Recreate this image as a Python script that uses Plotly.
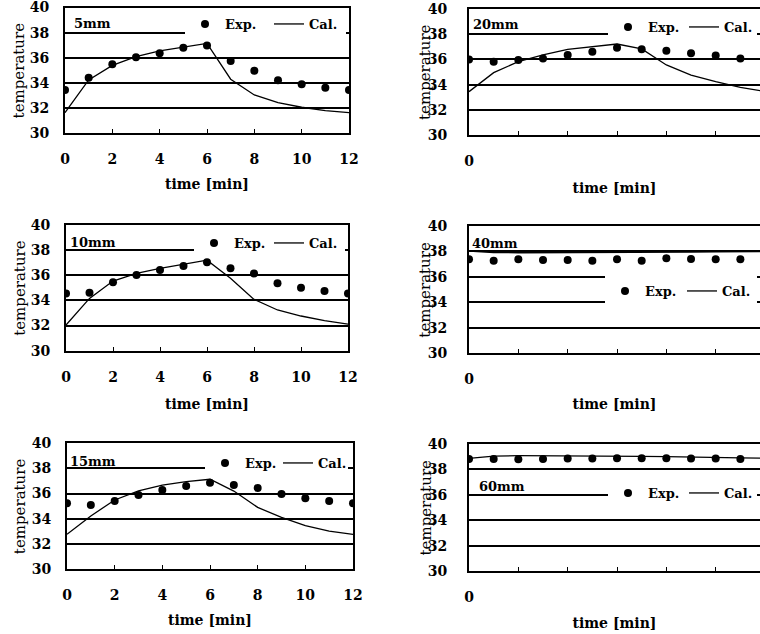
import plotly.graph_objects as go

# ---------------- data ----------------
time_min = [0, 1, 2, 3, 4, 5, 6, 7, 8, 9, 10, 11, 12]

exp_5mm = [33.44, 34.42, 35.48, 36.04, 36.36, 36.81, 36.97, 35.75, 34.98, 34.21, 33.89, 33.63, 33.44]
cal_5mm = [31.64, 34.24, 35.40, 36.10, 36.55, 36.83, 37.15, 34.30, 33.05, 32.44, 32.07, 31.80, 31.64]

exp_10mm = [34.56, 34.62, 35.44, 36.02, 36.42, 36.74, 37.03, 36.55, 36.15, 35.36, 35.01, 34.75, 34.56]
cal_10mm = [32.04, 34.16, 35.54, 36.15, 36.55, 36.87, 37.20, 35.76, 34.08, 33.24, 32.76, 32.39, 32.12]

exp_15mm = [35.23, 35.09, 35.41, 35.89, 36.29, 36.60, 36.87, 36.68, 36.45, 35.97, 35.62, 35.41, 35.23]
cal_15mm = [32.76, 34.22, 35.49, 36.21, 36.68, 36.95, 37.14, 36.20, 34.90, 34.10, 33.45, 33.02, 32.76]

exp_20mm = [36.00, 35.82, 35.95, 36.08, 36.35, 36.61, 36.93, 36.80, 36.69, 36.48, 36.30, 36.08, 36.00]
cal_20mm = [33.44, 34.95, 35.82, 36.35, 36.80, 37.02, 37.22, 36.83, 35.56, 34.76, 34.23, 33.78, 33.45]

exp_40mm = [37.38, 37.28, 37.38, 37.33, 37.33, 37.28, 37.38, 37.28, 37.46, 37.41, 37.38, 37.38, 37.38]
cal_40mm = [38.02, 37.92, 37.90, 37.90, 37.90, 37.90, 37.90, 37.92, 37.92, 37.95, 37.97, 37.98, 37.98]

exp_60mm = [38.82, 38.82, 38.79, 38.82, 38.85, 38.85, 38.87, 38.87, 38.87, 38.85, 38.85, 38.82, 38.82]
cal_60mm = [38.87, 39.05, 39.08, 39.08, 39.08, 39.08, 39.07, 39.03, 39.00, 38.95, 38.92, 38.90, 38.88]

panel_labels = ["5mm", "20mm", "10mm", "40mm", "15mm", "60mm"]
exp_series = [exp_5mm, exp_20mm, exp_10mm, exp_40mm, exp_15mm, exp_60mm]
cal_series = [cal_5mm, cal_20mm, cal_10mm, cal_40mm, cal_15mm, cal_60mm]

x_tick_vals = [0, 2, 4, 6, 8, 10, 12]
x_tick_text_full = ["0", "2", "4", "6", "8", "10", "12"]
x_tick_text_cut = ["0", "", "", "", "", "", ""]
y_tick_vals = [30, 32, 34, 36, 38, 40]
x_title = "time [min]"
y_title = "temperature"
exp_name = "Exp."
cal_name = "Cal."

# ---------------- layout geometry (pixels) ----------------
W, H = 760, 634
PX_PER_MIN_RIGHT = 24.67
# (x of t=0, x of t=12 or right edge, y of 40, y of 30, left-column?)
geom = [
    (65, 349, 7.5, 133.3, True),
    (469, 760, 9.0, 135.0, False),
    (66, 348, 225.0, 350.7, True),
    (469, 760, 226.0, 353.3, False),
    (67, 353, 443.3, 569.0, True),
    (469, 760, 444.0, 571.0, False),
]
xtitle_standoff = [13, 15, 16, 13, 13, 14]
# legend: left edge, vertical centre, Exp entry width, Cal entry width
legend_pos = [(185, 24), (608, 27), (194, 243), (605, 291), (205, 463), (608, 493)]
legend_exp_w = [39, 31, 30, 32, 28, 31]
legend_cal_w = [32, 28, 31, 30, 25, 28]
# panel label: left x, centre y
label_pos = [(72, 24), (471, 25), (68, 242), (470, 243), (68, 461), (477, 486)]
# y title centre x
ytitle_x = [19, 425, 20, 425, 20, 425]

SERIF = "DejaVu Serif"
fig = go.Figure()
layout = dict(
    width=W, height=H,
    margin=dict(l=0, r=0, t=0, b=0),
    paper_bgcolor="white", plot_bgcolor="white",
    font=dict(family=SERIF, color="black", size=13),
    annotations=[],
)

for i in range(6):
    x0, x1, y40, y30, full = geom[i]
    sfx = "" if i == 0 else str(i + 1)
    xa, ya = "x" + sfx, "y" + sfx
    leg = "legend" + sfx
    if full:
        xrange = [0, 12]
        ticktext = x_tick_text_full
        ystand = 11
    else:
        xrange = [0, (x1 - x0) / PX_PER_MIN_RIGHT]
        ticktext = x_tick_text_cut
        ystand = 17
    fig.add_trace(go.Scatter(
        x=time_min, y=exp_series[i], mode="markers", name=exp_name,
        marker=dict(symbol="circle", size=8, color="black"),
        xaxis=xa, yaxis=ya, legend=leg, showlegend=True,
        legendwidth=legend_exp_w[i],
    ))
    fig.add_trace(go.Scatter(
        x=time_min, y=cal_series[i], mode="lines", name=cal_name,
        line=dict(color="black", width=1.3),
        xaxis=xa, yaxis=ya, legend=leg, showlegend=True,
        legendwidth=legend_cal_w[i],
    ))
    layout["xaxis" + sfx] = dict(
        domain=[x0 / W, min(x1 / W, 1.0)], range=xrange, anchor=ya,
        showgrid=False, zeroline=False,
        showline=True, linecolor="black", linewidth=2, mirror=True,
        ticks="inside", ticklen=4, tickwidth=1, tickcolor="black",
        tickvals=x_tick_vals, ticktext=ticktext,
        tickfont=dict(family=SERIF, size=14, weight="bold"),
        ticklabelstandoff=12,
        title=dict(text=x_title, font=dict(family=SERIF, size=14, weight="bold"),
                   standoff=xtitle_standoff[i]),
        automargin=False, fixedrange=True,
    )
    layout["yaxis" + sfx] = dict(
        domain=[1 - y30 / H, 1 - y40 / H], range=[30, 40], anchor=xa,
        showgrid=True, gridcolor="black", gridwidth=1.6, zeroline=False,
        showline=True, linecolor="black", linewidth=2, mirror=full,
        ticks="", tickvals=y_tick_vals,
        tickfont=dict(family=SERIF, size=14, weight="bold"),
        ticklabelstandoff=ystand, ticklabeloverflow="allow",
        automargin=False, fixedrange=True,
    )
    lx, ly = legend_pos[i]
    layout[leg] = dict(
        x=lx / W, y=1 - ly / H, xanchor="left", yanchor="middle",
        xref="paper", yref="paper",
        orientation="h", bgcolor="white", borderwidth=0,
        font=dict(family=SERIF, size=13, weight="bold"),
        itemwidth=30, tracegroupgap=0,
    )
    px, py = label_pos[i]
    layout["annotations"].append(dict(
        text=panel_labels[i], x=px / W, y=1 - py / H, xref="paper", yref="paper",
        xanchor="left", yanchor="middle", showarrow=False,
        font=dict(family=SERIF, size=13, weight="bold"),
    ))
    # y-axis title
    layout["annotations"].append(dict(
        text=y_title, textangle=-90,
        x=ytitle_x[i] / W, y=1 - (y40 + y30) / 2 / H, xref="paper", yref="paper",
        xanchor="center", yanchor="middle", showarrow=False,
        font=dict(family=SERIF, size=15),
    ))

fig.update_layout(**layout)
fig.write_html("out.html", config={"displayModeBar": False},
               post_script="document.body.style.margin='0px';")
